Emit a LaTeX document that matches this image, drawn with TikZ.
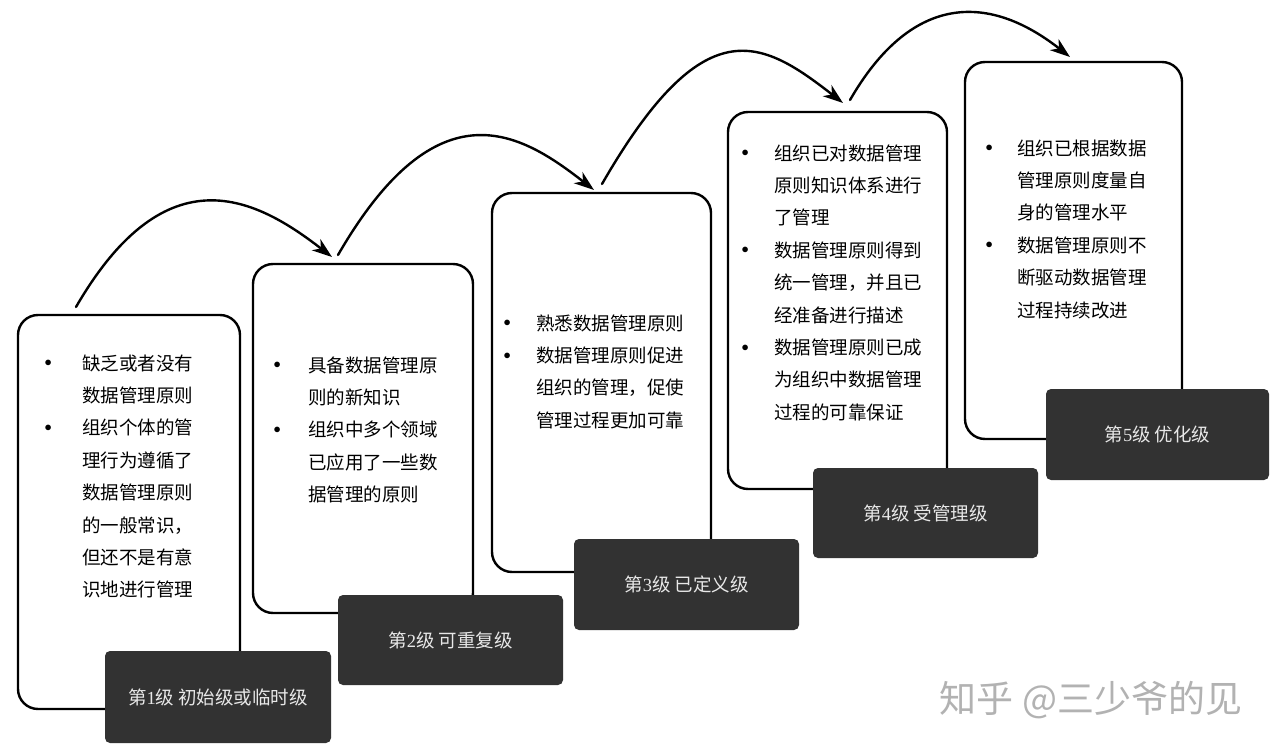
\documentclass[tikz,border=0pt]{standalone}
\usepackage{fontspec}
\setmainfont{Noto Sans CJK SC}
\newfontfamily\digitfont{Liberation Serif}
\usetikzlibrary{arrows.meta,calc}
\definecolor{darkbox}{RGB}{50,50,50}
\definecolor{lbl}{RGB}{232,232,232}
\definecolor{wmark}{RGB}{178,178,178}
\newlength{\bulw}
\newcommand{\bitem}[1]{\strut\makebox[\bulw][l]{\hspace{1pt}\raisebox{3.5pt}{\fontsize{14}{14}\selectfont$\bullet$}}#1}
\newcommand{\cont}[1]{\strut\hspace*{\bulw}#1}
\begin{document}
\begin{tikzpicture}[x=1pt,y=-1pt,
  wbox/.style={draw=black, line width=2.4pt, rounded corners=20pt, fill=white, inner sep=0pt},
  dbox/.style={fill=darkbox, rounded corners=5pt, inner sep=0pt, text=lbl, font=\fontsize{18.5}{22}\selectfont},
  txt/.style={anchor=north west, inner sep=0pt, align=left, font=\fontsize{18.5}{32.4}\selectfont},
  arr/.style={line width=2.4pt, line cap=round, -{Stealth[length=20pt,width=14pt,inset=6pt]}}]
\useasboundingbox (0,0) rectangle (1280,749);
\fill[white] (0,0) rectangle (1280,749);

% white boxes
\node[wbox, minimum width=222pt, minimum height=394pt] (b1) at (129,512) {};
\node[wbox, minimum width=220pt, minimum height=349pt] (b2) at (363,438.5) {};
\node[wbox, minimum width=219pt, minimum height=379pt] (b3) at (601.5,382.5) {};
\node[wbox, minimum width=219pt, minimum height=377pt] (b4) at (837.5,300.5) {};
\node[wbox, minimum width=217pt, minimum height=377pt] (b5) at (1073.5,250.5) {};

% dark level boxes
\node[dbox, minimum width=226pt, minimum height=92pt] (d1) at (218,697) {第{\digitfont 1}级 初始级或临时级};
\node[dbox, minimum width=225pt, minimum height=90pt] (d2) at (450.5,640) {第{\digitfont 2}级 可重复级};
\node[dbox, minimum width=225pt, minimum height=91pt] (d3) at (686.5,584.5) {第{\digitfont 3}级 已定义级};
\node[dbox, minimum width=225pt, minimum height=90pt] (d4) at (925.5,513) {第{\digitfont 4}级 受管理级};
\node[dbox, minimum width=223pt, minimum height=91pt] (d5) at (1157.5,434.5) {第{\digitfont 5}级 优化级};

% texts
\setlength{\bulw}{38.5pt}
\node[txt] (t1) at (43.5,347.3) {\bitem{缺乏或者没有}\\ \cont{数据管理原则}\\ \bitem{组织个体的管}\\ \cont{理行为遵循了}\\ \cont{数据管理原则}\\ \cont{的一般常识，}\\ \cont{但还不是有意}\\ \cont{识地进行管理}};
\setlength{\bulw}{35.5pt}
\node[txt] (t2) at (272.5,349.3) {\bitem{具备数据管理原}\\ \cont{则的新知识}\\ \bitem{组织中多个领域}\\ \cont{已应用了一些数}\\ \cont{据管理的原则}};
\setlength{\bulw}{33.5pt}
\node[txt] (t3) at (502.5,307.3) {\bitem{熟悉数据管理原则}\\ \bitem{数据管理原则促进}\\ \cont{组织的管理，促使}\\ \cont{管理过程更加可靠}};
\setlength{\bulw}{33.5pt}
\node[txt] (t4) at (740.5,137.3) {\bitem{组织已对数据管理}\\ \cont{原则知识体系进行}\\ \cont{了管理}\\ \bitem{数据管理原则得到}\\ \cont{统一管理，并且已}\\ \cont{经准备进行描述}\\ \bitem{数据管理原则已成}\\ \cont{为组织中数据管理}\\ \cont{过程的可靠保证}};
\setlength{\bulw}{32.5pt}
\node[txt] (t5) at (984.5,132.3) {\bitem{组织已根据数据}\\ \cont{管理原则度量自}\\ \cont{身的管理水平}\\ \bitem{数据管理原则不}\\ \cont{断驱动数据管理}\\ \cont{过程持续改进}};

% arrow end points
\coordinate (a1s) at (76,307);
\coordinate (a1e) at (332,257);
\coordinate (a2s) at (338,255);
\coordinate (a2e) at (594,190);
\coordinate (a3s) at (602,184);
\coordinate (a3e) at (843,103);
\coordinate (a4s) at (850,100);
\coordinate (a4e) at (1070,57);

\draw[arr] (a1s) .. controls (167,150) and (257,199) .. (a1e);
\draw[arr] (a2s) .. controls (438,82) and (521,133) .. (a2e);
\draw[arr] (a3s) .. controls (704,7) and (761,39) .. (a3e);
\draw[arr] (a4s) .. controls (910,-4) and (986,-9) .. (a4e);

% watermark
\node[text=wmark, inner sep=0pt, font=\fontsize{37}{42}\selectfont] (wm) at (1091,700) {知乎 @三少爷的见};
\end{tikzpicture}
\end{document}
